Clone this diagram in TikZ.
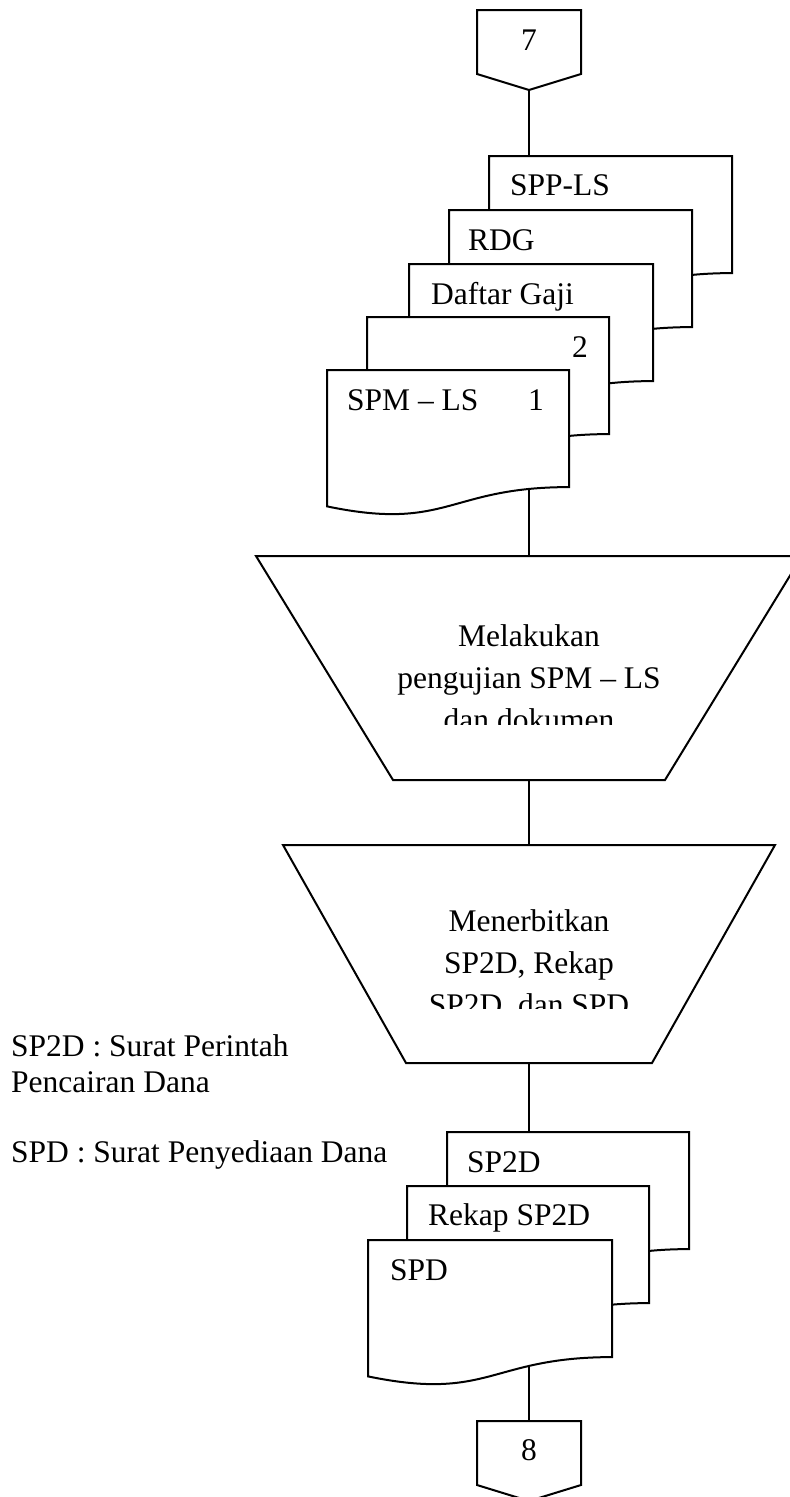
\documentclass[tikz,border=0pt]{standalone}
\usepackage{fontspec}
\setmainfont{Liberation Serif}
\tikzset{
  line/.style={line width=2pt, line join=miter, draw=black},
  sheet/.style={line, fill=white},
  lbl/.style={inner sep=0pt, font=\fontsize{31.5}{36}\selectfont},
  proclbl/.style={inner sep=0pt, align=center, font=\fontsize{31.5}{42}\selectfont},
  % flowchart "document" symbol: #1 = width, #2 = height, origin at top-left
  pics/docsheet/.style args={#1/#2}{code={
    \draw[sheet] (0,0) -- (#1,0) -- (#1,{0.802*#2})
      .. controls ({0.5*#1},{0.802*#2}) and ({0.5*#1},{1.107*#2}) .. (0,{0.934*#2}) -- cycle;}},
}
\begin{document}
\begin{tikzpicture}[x=1pt,y=-1pt]
\useasboundingbox (0,0) rectangle (790,1497);
\fill[white] (0,0) rectangle (790,1497);

% connection points
\coordinate (c7-out)   at (529,90);
\coordinate (spp-in)   at (529,156);
\coordinate (spm-out)  at (529,488.7);
\coordinate (t1-in)    at (529,556);
\coordinate (t1-out)   at (529,780);
\coordinate (t2-in)    at (529,845);
\coordinate (t2-out)   at (529,1063);
\coordinate (sp2d-in)  at (529,1132);
\coordinate (spd-out)  at (529,1366);
\coordinate (c8-in)    at (529,1421);

% connectors
\draw[line] (c7-out) -- (spp-in);
\draw[line] (spm-out) -- (t1-in);
\draw[line] (t1-out) -- (t2-in);
\draw[line] (t2-out) -- (sp2d-in);
\draw[line] (spd-out) -- (c8-in);

% off-page connector 7
\draw[sheet] (477,10) -- (581,10) -- (581,74) -- (529,90) -- (477,74) -- cycle;
\node[lbl, anchor=base] (c7) at (529,50) {7};

% stacked input documents
\pic at (489,156) {docsheet=243/146};
\node[lbl, anchor=base west] (spp) at (510,195) {SPP-LS};
\pic at (449,210) {docsheet=243/146};
\node[lbl, anchor=base west] (rdg) at (468,250) {RDG};
\pic at (409,264) {docsheet=244/146};
\node[lbl, anchor=base west] (gaji) at (431,304) {Daftar Gaji};
\pic at (367,317) {docsheet=242/146};
\node[lbl, anchor=base west] (two) at (572,357) {2};
\pic at (327,370) {docsheet=242/146};
\node[lbl, anchor=base west] (spm) at (347,410) {SPM – LS};
\node[lbl, anchor=base west] (one) at (528,410) {1};

% manual operation 1
\draw[sheet] (256,556) -- (802,556) -- (665,780) -- (393,780) -- cycle;
\begin{scope}
  \clip (300,560) rectangle (760,724);
  \node[proclbl, anchor=base] (test) at (529,730)
    {Melakukan\\pengujian SPM – LS\\dan dokumen};
\end{scope}

% manual operation 2
\draw[sheet] (283,845) -- (775,845) -- (652,1063) -- (406,1063) -- cycle;
\begin{scope}
  \clip (300,850) rectangle (760,1008);
  \node[proclbl, anchor=base] (issue) at (529,1015)
    {Menerbitkan\\SP2D, Rekap\\SP2D, dan SPD};
\end{scope}

% notes
\node[lbl, anchor=base west] (note1) at (11,1056) {SP2D : Surat Perintah};
\node[lbl, anchor=base west] (note2) at (11,1092) {Pencairan Dana};
\node[lbl, anchor=base west] (note3) at (11,1162) {SPD : Surat Penyediaan Dana};

% output documents
\pic at (447,1132) {docsheet=242/146};
\node[lbl, anchor=base west] (sp2d) at (467,1172) {SP2D};
\pic at (407,1186) {docsheet=242/146};
\node[lbl, anchor=base west] (rekap) at (428,1225) {Rekap SP2D};
\pic at (368,1240) {docsheet=244/146};
\node[lbl, anchor=base west] (spd) at (390,1280) {SPD};

% off-page connector 8
\draw[sheet] (477,1421) -- (581,1421) -- (581,1485) -- (529,1501) -- (477,1485) -- cycle;
\node[lbl, anchor=base] (c8) at (529,1460) {8};
\end{tikzpicture}
\end{document}
